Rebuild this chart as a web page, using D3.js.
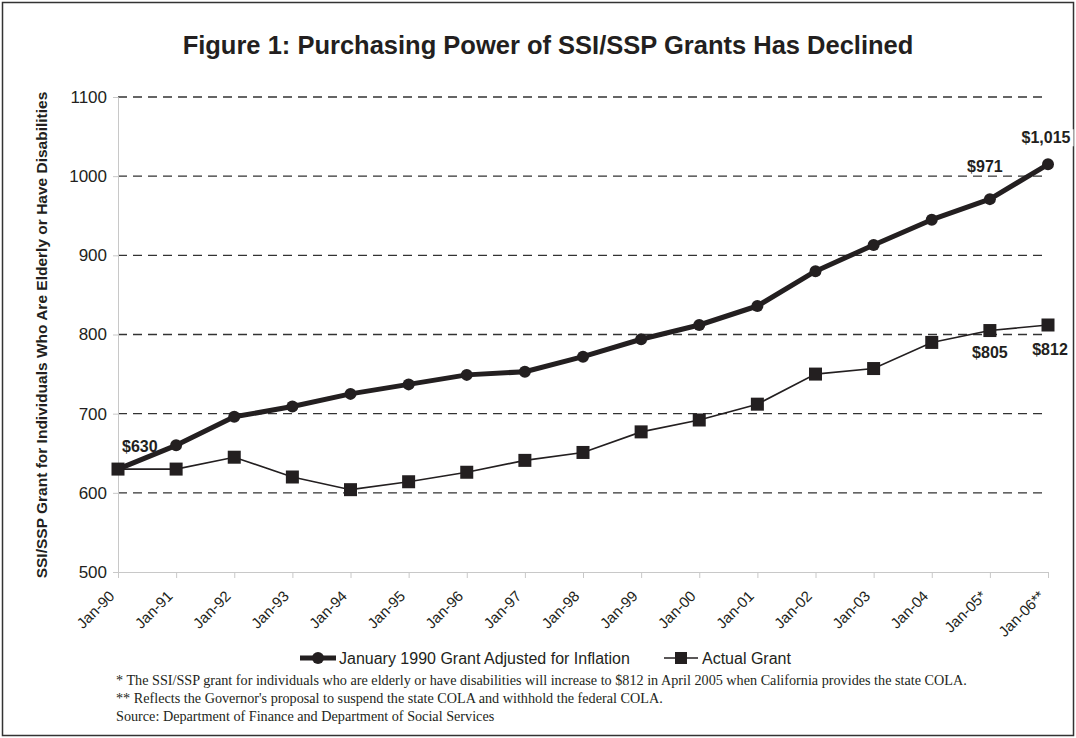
<!DOCTYPE html>
<html>
<head>
<meta charset="utf-8">
<script src="https://cdn.jsdelivr.net/npm/d3@7"></script>
<style>
  body { margin: 0; background: #fff; }
  svg text { fill: #231f20; }
</style>
</head>
<body>
<svg id="drawing_region"></svg>
<script>
// values
const months = ['Jan-90', 'Jan-91', 'Jan-92', 'Jan-93', 'Jan-94', 'Jan-95', 'Jan-96', 'Jan-97',
    'Jan-98', 'Jan-99', 'Jan-00', 'Jan-01', 'Jan-02', 'Jan-03', 'Jan-04', 'Jan-05*', 'Jan-06**'];
const adjusted = [630, 660, 696, 709, 725, 737, 749, 753, 772, 794, 812, 836, 880, 913, 945, 971, 1015];
const actual = [630, 630, 645, 620, 604, 614, 626, 641, 651, 677, 692, 712, 750, 757, 790, 805, 812];
const yTicks = [500, 600, 700, 800, 900, 1000, 1100];
const seriesNames = ['January 1990 Grant Adjusted for Inflation', 'Actual Grant'];
const notes = [
    '* The SSI/SSP grant for individuals who are elderly or have disabilities will increase to $812 in April 2005 when California provides the state COLA.',
    "** Reflects the Governor's proposal to suspend the state COLA and withhold the federal COLA.",
    'Source: Department of Finance and Department of Social Services'
];
// labelled points: [series, index, text]
const callouts = [
    ['adj', 0, '$630'], ['adj', 15, '$971'], ['adj', 16, '$1,015'],
    ['act', 15, '$805'], ['act', 16, '$812']
];

const W = 1076, H = 738;
const ink = '#231f20';
const sans = 'Liberation Sans, Arial, sans-serif';

const svg = d3.select('#drawing_region')
    .attr('width', W)
    .attr('height', H);

// frame
svg.append('rect')
    .attr('x', 2.5).attr('y', 2.5)
    .attr('width', W - 5).attr('height', H - 5)
    .attr('fill', 'none')
    .attr('stroke', '#333')
    .attr('stroke-width', 1.5);

svg.append('text')
    .attr('x', 548).attr('y', 54)
    .attr('text-anchor', 'middle')
    .style('font-family', sans)
    .style('font-weight', 'bold')
    .style('font-size', '25.5px')
    .text('Figure 1: Purchasing Power of SSI/SSP Grants Has Declined');

const x = d3.scalePoint()
    .domain(months)
    .range([118, 1048]);

const y = d3.scaleLinear()
    .domain([500, 1100])
    .range([572, 97]);

// grid lines
svg.append('g')
    .selectAll('line')
    .data(yTicks.filter(d => d > 500))
    .enter()
    .append('line')
    .attr('x1', x(months[0]))
    .attr('x2', x(months[months.length - 1]))
    .attr('y1', d => y(d))
    .attr('y2', d => y(d))
    .attr('stroke', '#333')
    .attr('stroke-width', 1.3)
    .attr('stroke-dasharray', '9,6');

// y axis
const yAxis = svg.append('g')
    .attr('transform', `translate(${x(months[0])},0)`)
    .call(d3.axisLeft(y).tickValues(yTicks).tickFormat(d3.format('d')).tickSize(5).tickPadding(6));
yAxis.select('.domain').attr('stroke', '#c8c8c8');
yAxis.selectAll('.tick line').attr('stroke', '#c8c8c8');
yAxis.selectAll('.tick text')
    .style('font-family', sans)
    .style('font-size', '17px')
    .attr('fill', ink);

// x axis
const xAxis = svg.append('g')
    .attr('transform', `translate(0,${y(500)})`)
    .call(d3.axisBottom(x).tickSize(6).tickSizeOuter(0));
xAxis.select('.domain').attr('stroke', '#c8c8c8');
xAxis.selectAll('.tick line').attr('stroke', '#c8c8c8');
xAxis.selectAll('.tick text')
    .style('font-family', sans)
    .style('font-size', '15px')
    .attr('fill', ink)
    .attr('text-anchor', 'end')
    .attr('dy', null)
    .attr('y', 0)
    .attr('transform', 'translate(-3,25) rotate(-45)');

// y title
svg.append('text')
    .attr('transform', 'translate(47,335) rotate(-90)')
    .attr('text-anchor', 'middle')
    .style('font-family', sans)
    .style('font-weight', 'bold')
    .style('font-size', '15.5px')
    .text('SSI/SSP Grant for Individuals Who Are Elderly or Have Disabilities');

// callouts (white boxes hide the grid behind them, series drawn on top)
const offsets = {
    '$630': [4, -17, 'start'],
    '$971': [-5, -27, 'middle'],
    '$1,015': [-2, -21, 'middle'],
    '$805': [0, 27, 'middle'],
    '$812': [2, 30, 'middle']
};
const labels = svg.append('g')
    .selectAll('g')
    .data(callouts)
    .enter()
    .append('g')
    .attr('transform', d => `translate(${x(months[d[1]]) + offsets[d[2]][0]},${y(d[0] === 'adj' ? adjusted[d[1]] : actual[d[1]]) + offsets[d[2]][1]})`);
labels.append('text')
    .attr('text-anchor', d => offsets[d[2]][2])
    .style('font-family', sans)
    .style('font-weight', 'bold')
    .style('font-size', '16px')
    .text(d => d[2]);
labels.insert('rect', 'text')
    .each(function () {
        const b = this.nextSibling.getBBox();
        d3.select(this)
            .attr('x', b.x - 3).attr('y', b.y)
            .attr('width', b.width + 6).attr('height', b.height)
            .attr('fill', '#fff');
    });

// lines
const line = d3.line()
    .x((d, i) => x(months[i]))
    .y(d => y(d));

svg.append('path')
    .datum(actual)
    .attr('d', line)
    .attr('fill', 'none')
    .attr('stroke', ink)
    .attr('stroke-width', 1.6);

svg.append('g')
    .selectAll('rect')
    .data(actual)
    .enter()
    .append('rect')
    .attr('x', (d, i) => x(months[i]) - 6.5)
    .attr('y', d => y(d) - 6.5)
    .attr('width', 13)
    .attr('height', 13)
    .attr('fill', ink);

svg.append('path')
    .datum(adjusted)
    .attr('d', line)
    .attr('fill', 'none')
    .attr('stroke', ink)
    .attr('stroke-width', 5)
    .attr('stroke-linejoin', 'round');

svg.append('g')
    .selectAll('circle')
    .data(adjusted)
    .enter()
    .append('circle')
    .attr('cx', (d, i) => x(months[i]))
    .attr('cy', d => y(d))
    .attr('r', 6)
    .attr('fill', ink);

// legend
const legend = svg.append('g').attr('transform', 'translate(0,658)');
legend.append('line')
    .attr('x1', 300).attr('x2', 336).attr('y1', 0).attr('y2', 0)
    .attr('stroke', ink).attr('stroke-width', 5);
legend.append('circle')
    .attr('cx', 318).attr('cy', 0).attr('r', 6).attr('fill', ink);
legend.append('text')
    .attr('x', 339).attr('y', 6)
    .style('font-family', sans)
    .style('font-size', '16px')
    .text(seriesNames[0]);
legend.append('line')
    .attr('x1', 664).attr('x2', 698).attr('y1', 0).attr('y2', 0)
    .attr('stroke', ink).attr('stroke-width', 1.6);
legend.append('rect')
    .attr('x', 675).attr('y', -6).attr('width', 12).attr('height', 12).attr('fill', ink);
legend.append('text')
    .attr('x', 702).attr('y', 6)
    .style('font-family', sans)
    .style('font-size', '16px')
    .text(seriesNames[1]);

// footnotes
svg.append('g')
    .selectAll('text')
    .data(notes)
    .enter()
    .append('text')
    .attr('x', 116)
    .attr('y', (d, i) => 685 + i * 18)
    .style('font-family', 'Liberation Serif, Times New Roman, serif')
    .style('font-size', '14.2px')
    .text(d => d);
</script>
</body>
</html>
